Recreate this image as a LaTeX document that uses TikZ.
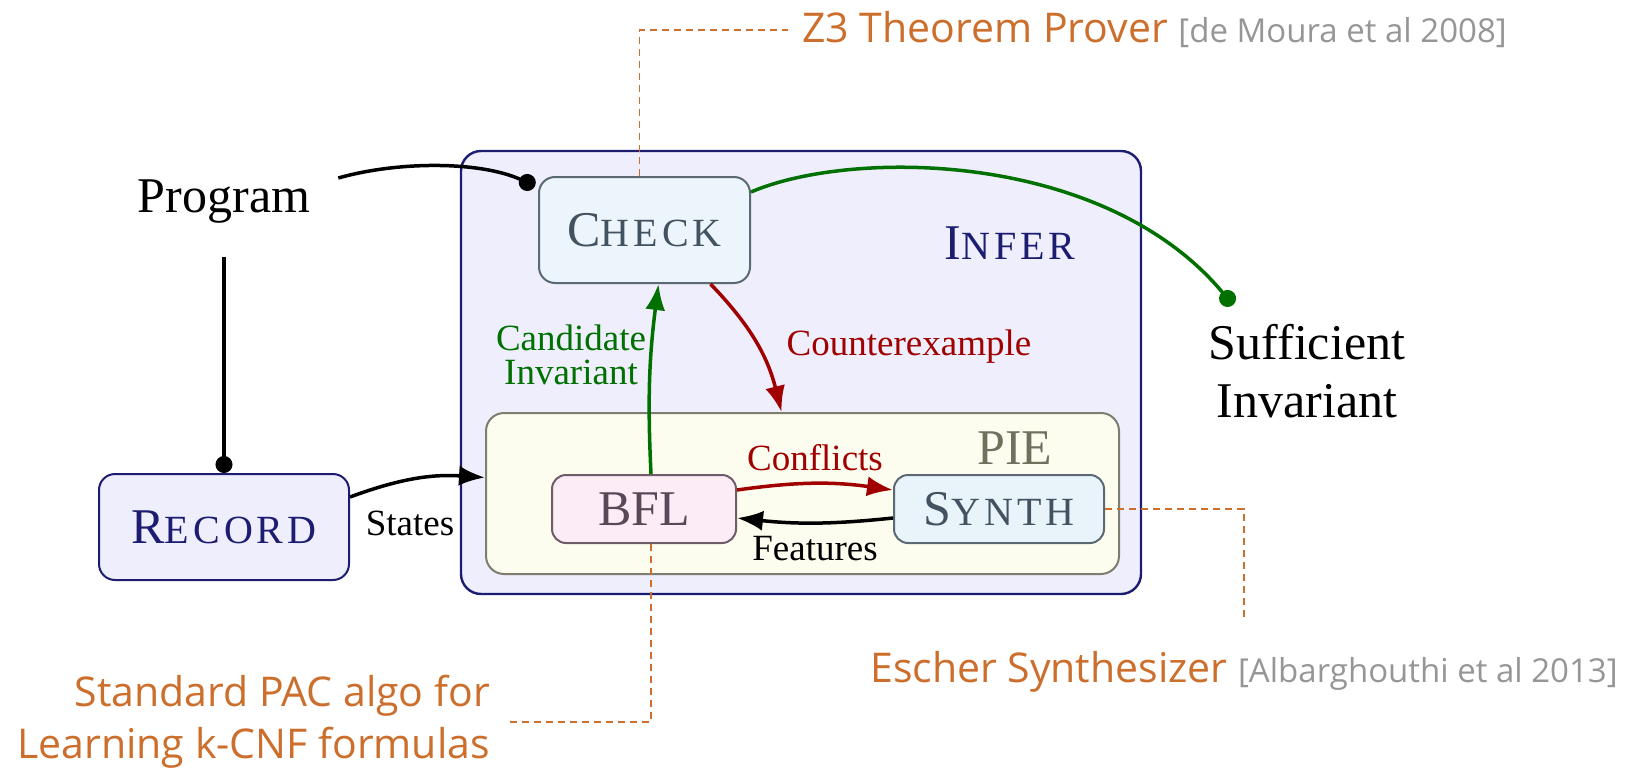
\documentclass[tikz,border=0pt]{standalone}
\usepackage{fontspec}
\setmainfont{Liberation Serif}
\newfontfamily\notefont{Open Sans}
\usetikzlibrary{arrows.meta}

\definecolor{infbg}{RGB}{238,238,252}
\definecolor{infdraw}{RGB}{28,28,112}
\definecolor{chkbg}{RGB}{236,245,252}
\definecolor{chkdraw}{RGB}{90,105,115}
\definecolor{chktext}{RGB}{66,82,96}
\definecolor{piebg}{RGB}{253,253,239}
\definecolor{piedraw}{RGB}{125,125,112}
\definecolor{pietext}{RGB}{112,112,92}
\definecolor{bflbg}{RGB}{252,236,246}
\definecolor{bfldraw}{RGB}{110,92,104}
\definecolor{bfltext}{RGB}{88,72,88}
\definecolor{synbg}{RGB}{232,244,250}
\definecolor{ok}{RGB}{0,112,0}
\definecolor{bad}{RGB}{160,0,0}
\definecolor{note}{RGB}{204,110,44}
\definecolor{cite}{RGB}{150,150,150}

% fake small caps: first letter big, rest smaller
\newcommand{\smc}[2]{#1{\fontsize{40}{40}\selectfont\addfontfeatures{LetterSpace=10}#2}}

\tikzset{
  box/.style={draw, rounded corners=16pt, line width=2pt, minimum height=106pt},
  smallbox/.style={draw, rounded corners=14pt, line width=2pt, minimum height=68pt},
  big/.style={font=\fontsize{50}{58}\selectfont},
  lbl/.style={font=\fontsize{37}{34}\selectfont},
  flow/.style={line width=3.5pt, -{Latex[length=26pt,width=20pt]}},
  dotend/.style={line width=3.5pt, -{Circle[length=17pt]}},
  notedash/.style={note, line width=1.6pt, dash pattern=on 7pt off 5pt},
  notetext/.style={text=note, font=\notefont\fontsize{41}{52}\selectfont, inner sep=0pt},
}

\begin{document}
\begin{tikzpicture}[x=1pt,y=-1pt]
\useasboundingbox (0,0) rectangle (1633,768);

% frames
\node[draw=infdraw, fill=infbg, rounded corners=20pt, line width=2.4pt, minimum width=680pt, minimum height=443pt] (infer) at (801,372.5) {};
\node[big, text=infdraw] (inferlbl) at (1010,243) {\smc{I}{NFER}};
\node[draw=piedraw, fill=piebg, rounded corners=18pt, line width=2pt, minimum width=633pt, minimum height=161pt] (pie) at (802.5,493.5) {};
\node[big, text=pietext] (pielbl) at (1015,448) {PIE};

% boxes
\node[box, big, draw=infdraw, fill=infbg, text=infdraw, minimum width=250pt] (record) at (224,527) {\smc{R}{ECORD}};
\node[box, big, draw=chkdraw, fill=chkbg, text=chktext, minimum width=211pt] (check) at (644.5,230) {\smc{C}{HECK}};
\node[smallbox, big, draw=bfldraw, fill=bflbg, text=bfltext, minimum width=184pt] (bfl) at (644,509) {BFL};
\node[smallbox, big, draw=chkdraw, fill=synbg, text=chktext, minimum width=210pt] (synth) at (999,509) {\smc{S}{YNTH}};

% plain texts
\node[big, inner xsep=28pt, inner ysep=33pt] (prog) at (224,202) {Program};
\node[big, align=center] (suff) at (1307,371) {Sufficient\\Invariant};
\coordinate (sdot) at (1233,305);

\node[lbl, text=ok, align=center] (cand) at (571,355) {Candidate\\Invariant};
\node[lbl, text=bad] (cex) at (909,347) {Counterexample};
\node[lbl, text=bad] (confl) at (815,458) {Conflicts};
\node[lbl] (feat) at (815,549) {Features};
\node[lbl] (states) at (410,523) {States};

% connectors
\draw[dotend] ([yshift=24pt]prog.east) .. controls +(60,-17) and +(-55,-25) .. ([shift={(-3pt,-10pt)}]check.north west);
\draw[dotend] (prog.south) -- (record.north);
\draw[flow] ([yshift=30pt]record.east) to[bend left=12] ([yshift=16pt]pie.west);
\draw[dotend, ok] ([yshift=-16pt]check.north east) .. controls +(100,-43) and +(-129,-155) .. (sdot);
\draw[flow, ok] ([xshift=7pt]bfl.north) to[bend left=5] ([xshift=14pt]check.south);
\draw[flow, bad] ([xshift=66pt]check.south) to[bend left=15] ([xshift=-21pt]pie.north);
\draw[flow, bad] ([yshift=19pt]bfl.east) to[bend left=8] ([yshift=19pt]synth.west);
\draw[flow] ([yshift=-9pt]synth.west) to[bend left=6] ([yshift=-9pt]bfl.east);

% notes
\node[notetext, anchor=base west] (zthree) at (802,43) {Z3 Theorem Prover {\color{cite}\fontsize{33}{33}\selectfont[de Moura et al 2008]}};
\node[notetext, anchor=base west] (escher) at (870,682) {Escher Synthesizer {\color{cite}\fontsize{33}{33}\selectfont[Albarghouthi et al 2013]}};
\node[notetext, anchor=east, align=right] (pac) at (490,722) {Standard PAC algo for\\Learning k-CNF formulas};

\draw[notedash, shorten >=14pt] ([xshift=-5pt]check.north) |- (zthree.west);
\draw[notedash, shorten >=30pt] (synth.east) -| (escher.north);
\draw[notedash, shorten >=20pt] ([xshift=7pt]bfl.south) |- (pac.east);
\end{tikzpicture}
\end{document}
